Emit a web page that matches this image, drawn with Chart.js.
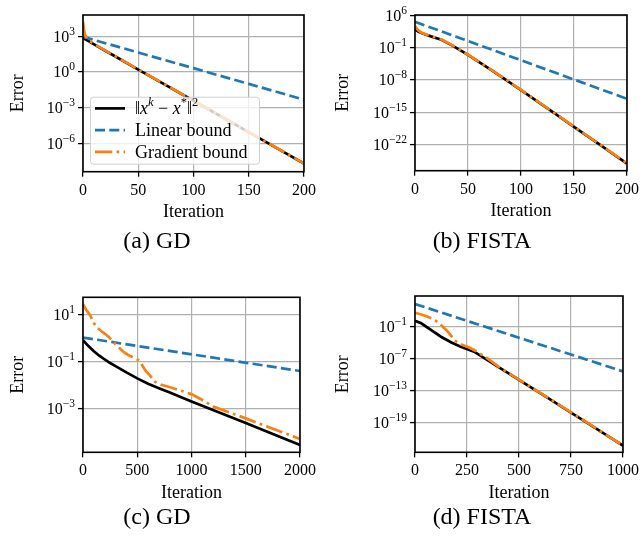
<!DOCTYPE html>
<html>
<head>
<meta charset="utf-8">
<script src="https://cdn.jsdelivr.net/npm/chart.js@4.4.1/dist/chart.umd.min.js"></script>
<style>
  html, body { margin: 0; padding: 0; background: #fff; }
  #fig { position: relative; width: 643px; height: 543px; overflow: hidden; }
  #fig canvas { position: absolute; }
  .caption { position: absolute; width: 320px; text-align: center; color: #000;
             font: 24px 'Liberation Serif', 'DejaVu Serif', serif; line-height: 26px; }
</style>
</head>
<body>
<div id="fig">
  <canvas id="gdStrong" width="320" height="232" style="left:0px;top:0px"></canvas>
  <canvas id="fistaStrong" width="323" height="232" style="left:320px;top:0px"></canvas>
  <canvas id="gdWeak" width="320" height="233" style="left:0px;top:280px"></canvas>
  <canvas id="fistaWeak" width="323" height="233" style="left:320px;top:280px"></canvas>
  <div class="caption" style="left:-3px;top:227px">(a) GD</div>
  <div class="caption" style="left:322px;top:227px">(b) FISTA</div>
  <div class="caption" style="left:-3px;top:503px">(c) GD</div>
  <div class="caption" style="left:322px;top:503px">(d) FISTA</div>
</div>
<script>
// All error values are stored as log10(error)
// (a) GD, strongly convex problem
const gdIter = [0, 1, 2, 3, 5, 10, 25, 50, 75, 100, 125, 150, 175, 200];
const gdDist = [2.85, 2.8, 2.75, 2.69, 2.59, 2.32, 1.53, 0.2, -1.1, -2.42, -3.74, -5.05, -6.37, -7.69];
const gdGrad = [4.2, 3.45, 3.1, 2.9, 2.65, 2.34, 1.54, 0.21, -1.09, -2.41, -3.73, -5.04, -6.36, -7.68];
const gdLinIter = [0, 50, 100, 150, 200];
const gdLin = [2.95, 1.63, 0.32, -1.0, -2.33];

// (b) FISTA, strongly convex problem
const fistaIter = [0, 3, 6, 15, 25, 35, 50, 75, 100, 125, 150, 175, 200];
const fistaDist = [3.0, 2.55, 2.25, 1.5, 0.75, -0.45, -2.55, -6.3, -10.2, -14.2, -18.2, -22.2, -26.2];
const fistaGrad = [3.75, 2.8, 2.3, 1.55, 0.8, -0.4, -2.5, -6.25, -10.15, -14.15, -18.15, -22.15, -26.15];
const fistaLinIter = [0, 100, 200];
const fistaLin = [4.67, -3.7, -12.1];

// (c) GD, second problem
const gd2Iter = [0, 50, 100, 150, 200, 250, 300, 400, 500, 600, 700, 800, 1000, 1250, 1500, 1750, 2000];
const gd2Dist = [-0.08, -0.33, -0.55, -0.74, -0.9, -1.05, -1.18, -1.45, -1.7, -1.93, -2.12, -2.3, -2.68, -3.14, -3.6, -4.06, -4.53];
const gd2GradIter = [0, 30, 67, 100, 130, 170, 205, 240, 267, 300, 343, 380, 420, 470, 512, 540, 573, 620, 665, 720, 788, 900, 1003, 1100, 1200, 1350, 1500, 1750, 2000];
const gd2Grad = [1.45, 1.2, 0.97, 0.65, 0.45, 0.3, 0.18, 0.05, -0.09, -0.25, -0.44, -0.6, -0.72, -0.82, -0.93, -1.1, -1.35, -1.6, -1.85, -1.97, -2.06, -2.22, -2.38, -2.62, -2.9, -3.15, -3.4, -3.84, -4.27];
const gd2LinIter = [0, 2000];
const gd2Lin = [0.03, -1.39];

// (d) FISTA, second problem
const fista2Iter = [0, 30, 80, 125, 175, 220, 284, 379, 500, 625, 750, 875, 1000];
const fista2Dist = [0.13, -0.36, -1.7, -2.88, -3.95, -4.75, -5.69, -8.0, -10.97, -14.0, -17.1, -20.2, -23.3];
const fista2GradIter = [0, 30, 62, 100, 125, 150, 165, 189, 210, 229, 260, 284, 348, 400, 450, 500, 625, 750, 875, 1000];
const fista2Grad = [1.63, 1.3, 0.88, 0.1, -0.68, -1.6, -2.24, -3.5, -4.1, -4.43, -4.9, -5.37, -6.93, -8.45, -9.7, -10.93, -13.97, -17.07, -20.17, -23.27];
const fista2LinIter = [0, 1000];
const fista2Lin = [3.26, -9.38];

// y tick positions (log10) for each panel
const gdTicks = [3, 0, -3, -6];
const fistaTicks = [6, -1, -8, -15, -22];
const gd2Ticks = [1, -1, -3];
const fista2Ticks = [-1, -7, -13, -19];

const seriesNames = ['\u2016x\u1D4F \u2212 x*\u2016\u00B2', 'Linear bound', 'Gradient bound'];

const FAMILY = "'Liberation Serif', 'DejaVu Serif', serif";
const BASE = 16;
const SUP = 11.5;
const LEGEND_SIZE = 18;
const LEGEND_SUP = 12.5;
const TITLE_SIZE = 18;
const BLACK = '#000000';
const BLUE = '#1f77b4';
const ORANGE = '#ff7f0e';
const LW = 2.7;
const DASHED = [10, 4.3];
const DASHDOT = [17.2, 4.3, 2.7, 4.3];

Chart.defaults.font.family = FAMILY;
Chart.defaults.font.size = BASE;
Chart.defaults.color = '#000';

// text made of runs: plain, italic, superscript
function drawRuns(ctx, runs, x, y, align, size, supSize) {
    const base = size || BASE;
    const sup = supSize || SUP;
    const fontOf = r => (r.it ? 'italic ' : '') + (r.sup ? sup : base) + 'px ' + FAMILY;
    let w = 0;
    runs.forEach(r => { ctx.font = fontOf(r); w += ctx.measureText(r.t).width; });
    let cx = align === 'right' ? x - w : x;
    ctx.textAlign = 'left';
    runs.forEach(r => {
        ctx.font = fontOf(r);
        ctx.fillText(r.t, cx, r.sup ? y - base * 0.44 : y);
        cx += ctx.measureText(r.t).width;
    });
}

const distRuns = [
    {t: '\u2016'}, {t: 'x', it: true}, {t: 'k', it: true, sup: true},
    {t: ' \u2212 '}, {t: 'x', it: true}, {t: '*', sup: true},
    {t: '\u2016'}, {t: '2', sup: true}
];

// decade labels 10^n on the y axis
const expTicks = {
    id: 'expTicks',
    afterDraw(chart) {
        const ctx = chart.ctx;
        const ys = chart.scales.y;
        ctx.save();
        ctx.fillStyle = '#000';
        ctx.textBaseline = 'alphabetic';
        ys.ticks.forEach(t => {
            const py = ys.getPixelForValue(t.value);
            const e = Math.round(Math.log10(t.value));
            const ex = e < 0 ? '\u2212' + (-e) : String(e);
            drawRuns(ctx, [{t: '10'}, {t: ex, sup: true}], chart.chartArea.left - 8, py + 5.5, 'right');
        });
        ctx.restore();
    }
};

// closed frame around the axes
const frame = {
    id: 'frame',
    afterDatasetsDraw(chart) {
        const {ctx, chartArea: a} = chart;
        ctx.save();
        ctx.strokeStyle = '#000';
        ctx.lineWidth = 1.6;
        ctx.strokeRect(a.left, a.top, a.right - a.left, a.bottom - a.top);
        ctx.restore();
    }
};

// legend in the lower left corner of the axes
const cornerLegend = {
    id: 'cornerLegend',
    afterDraw(chart) {
        const {ctx, chartArea: a} = chart;
        const w = 169, h = 67;
        const left = a.left + 7, top = a.bottom - 8 - h;
        ctx.save();
        ctx.beginPath();
        ctx.roundRect(left + 0.5, top + 0.5, w, h, 3);
        ctx.fillStyle = 'rgba(255,255,255,0.8)';
        ctx.fill();
        ctx.strokeStyle = '#d0d0d0';
        ctx.lineWidth = 1;
        ctx.stroke();
        chart.data.datasets.forEach((ds, i) => {
            const y = top + 11.7 + i * 21.7;
            ctx.beginPath();
            ctx.setLineDash(ds.borderDash || []);
            ctx.strokeStyle = ds.borderColor;
            ctx.lineWidth = ds.borderWidth;
            ctx.moveTo(left + 5, y);
            ctx.lineTo(left + 35, y);
            ctx.stroke();
            ctx.setLineDash([]);
            ctx.fillStyle = '#000';
            ctx.textBaseline = 'alphabetic';
            const runs = i === 0 ? distRuns : [{t: ds.label}];
            drawRuns(ctx, runs, left + 45, y + 6, 'left', LEGEND_SIZE, LEGEND_SUP);
        });
        ctx.restore();
    }
};

function pts(xs, ys) {
    return xs.map((x, i) => ({x: x, y: Math.pow(10, ys[i])}));
}

function makePanel(id, plot, xMax, xStep, yLo, yHi, yTicks, lines, titleX, withLegend) {
    const canvas = document.getElementById(id);
    const box = {
        left: parseFloat(canvas.style.left), top: parseFloat(canvas.style.top),
        width: canvas.width, height: canvas.height
    };
    const grid = {color: '#b0b0b0', lineWidth: 1.2, tickColor: '#000', tickLength: 5, tickWidth: 1.3};
    const titleY = plot.b + 40.5;
    const half = TITLE_SIZE * 1.2 / 2;
    const plugins = [frame, expTicks];
    if (withLegend) plugins.push(cornerLegend);

    return new Chart(canvas, {
        type: 'line',
        data: {
            datasets: [
                {label: seriesNames[0], data: pts(lines[0][0], lines[0][1]), borderColor: BLACK,
                 borderWidth: LW, pointRadius: 0, fill: false, order: 3},
                {label: seriesNames[1], data: pts(lines[1][0], lines[1][1]), borderColor: BLUE,
                 borderWidth: LW, borderDash: DASHED, pointRadius: 0, fill: false, order: 2},
                {label: seriesNames[2], data: pts(lines[2][0], lines[2][1]), borderColor: ORANGE,
                 borderWidth: LW, borderDash: DASHDOT, pointRadius: 0, fill: false, order: 1}
            ]
        },
        options: {
            animation: false,
            responsive: false,
            layout: {
                padding: {top: plot.t - box.top, right: box.left + box.width - plot.r, left: 0, bottom: 0}
            },
            plugins: {
                legend: {display: false},
                tooltip: {enabled: false}
            },
            scales: {
                x: {
                    type: 'linear',
                    min: 0,
                    max: xMax,
                    ticks: {stepSize: xStep, autoSkip: false, maxRotation: 0, padding: 4,
                            callback: v => String(v)},
                    grid: grid,
                    border: {display: false},
                    title: {display: true, text: 'Iteration', font: {size: TITLE_SIZE},
                            padding: {top: 0, bottom: box.top + box.height - titleY - half}},
                    afterFit: s => { s.height = box.top + box.height - plot.b; }
                },
                y: {
                    type: 'logarithmic',
                    min: Math.pow(10, yLo),
                    max: Math.pow(10, yHi),
                    ticks: {display: false},
                    afterBuildTicks: s => { s.ticks = yTicks.map(e => ({value: Math.pow(10, e)})); },
                    grid: grid,
                    border: {display: false},
                    title: {display: true, text: 'Error', font: {size: TITLE_SIZE},
                            padding: {top: titleX - box.left - half, bottom: 0}},
                    afterFit: s => { s.width = plot.l - box.left; }
                }
            }
        },
        plugins: plugins
    });
}

makePanel('gdStrong', {l: 83, t: 15, r: 304, b: 171.7}, 200, 50, -8.37, 4.78, gdTicks,
    [[gdIter, gdDist], [gdLinIter, gdLin], [gdIter, gdGrad]], 18, true);
makePanel('fistaStrong', {l: 415, t: 15, r: 629.3, b: 170.7}, 200, 50, -27.75, 6.15, fistaTicks,
    [[fistaIter, fistaDist], [fistaLinIter, fistaLin], [fistaIter, fistaGrad]], 343.5, false);
makePanel('gdWeak', {l: 83, t: 297.3, r: 300, b: 452.3}, 2000, 500, -4.84, 1.74, gd2Ticks,
    [[gd2Iter, gd2Dist], [gd2LinIter, gd2Lin], [gd2GradIter, gd2Grad]], 18, false);
makePanel('fistaWeak', {l: 415, t: 296, r: 625, b: 452.3}, 1000, 250, -24.55, 4.76, fista2Ticks,
    [[fista2Iter, fista2Dist], [fista2LinIter, fista2Lin], [fista2GradIter, fista2Grad]], 343.5, false);
</script>
</body>
</html>
